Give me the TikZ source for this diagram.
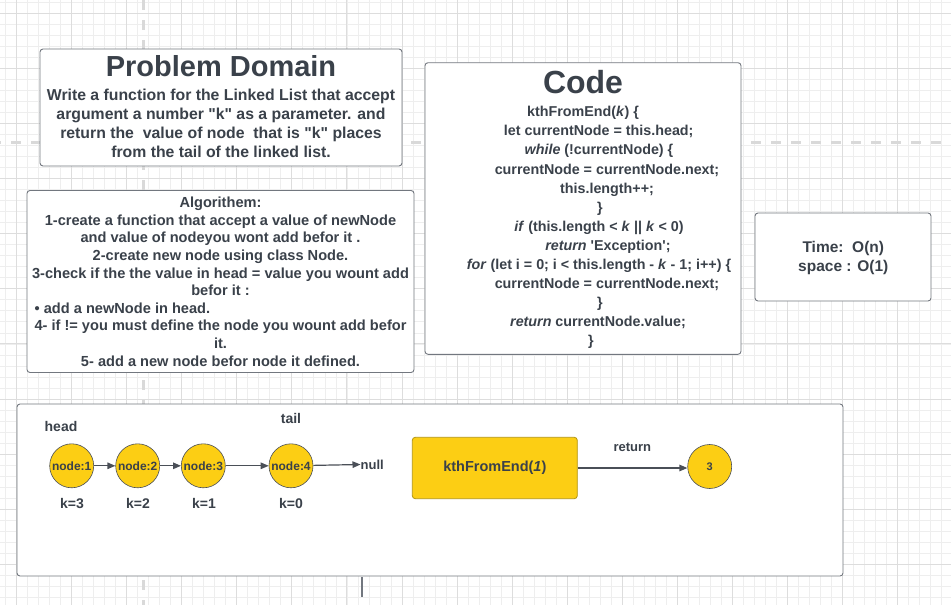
\documentclass[tikz,border=0pt]{standalone}
\usepackage{fontspec}
\setmainfont{Liberation Sans}[Ligatures=TeXOff]
\usetikzlibrary{arrows.meta}
\definecolor{txt}{HTML}{3A414A}
\definecolor{bord}{HTML}{72777F}
\definecolor{gmin}{HTML}{EEEEEE}
\definecolor{gmaj}{HTML}{DDDDDD}
\definecolor{guide}{HTML}{D9D9D9}
\definecolor{ylw}{HTML}{FCCE14}
\definecolor{ybord}{HTML}{B2950F}
\definecolor{cbord}{HTML}{4A4F57}
\tikzset{
  box/.style={draw=bord, fill=white, rounded corners=3pt, line width=0.9pt, inner sep=0pt},
  tx/.style={text=txt, inner sep=0pt, anchor=base},
  ptxt/.style={tx, font=\bfseries\fontsize{15.8}{19}\selectfont},
  atxt/.style={tx, font=\bfseries\fontsize{14.6}{17.6}\selectfont},
  ctxt/.style={tx, font=\bfseries\fontsize{14.3}{19}\selectfont},
  ltxt/.style={tx, font=\bfseries\fontsize{14}{16}\selectfont},
  lnode/.style={circle, minimum size=44pt, inner sep=0pt, fill=ylw, draw=cbord, line width=0.6pt, text=txt, font=\bfseries\fontsize{12}{12}\selectfont},
  arr/.style={draw=cbord, line width=1.2pt, -{Triangle[length=8pt,width=6.5pt]}},
  gridminor/.style={draw=gmin, line width=0.8pt},
  gridmajor/.style={draw=gmaj, line width=0.9pt},
  guideline/.style={draw=guide, line width=2.6pt, dash pattern=on 10pt off 10pt}
}
\begin{document}
\begin{tikzpicture}[x=1pt,y=-1pt]
\useasboundingbox (0,0) rectangle (951,605);
\fill[white] (0,0) rectangle (951,605);
% grid
\foreach \i in {0,...,86} {\draw[gridminor] ({5.5+11.014*\i},0) -- ({5.5+11.014*\i},605);}
\foreach \i in {0,...,55} {\draw[gridminor] (0,{2.3+11.02*\i}) -- (951,{2.3+11.02*\i});}
\foreach \i in {0,...,17} {\draw[gridmajor] ({16.5+55.07*\i},0) -- ({16.5+55.07*\i},605);}
\foreach \i in {0,...,10} {\draw[gridmajor] (0,{13.3+55.1*\i}) -- (951,{13.3+55.1*\i});}
% guides
\draw[guideline, dash phase=9pt] (0,142.3) -- (951,142.3);
\draw[guideline] (143.5,0) -- (143.5,605);
\draw[draw=bord, line width=2pt] (361.7,577) -- (361.7,597);

% Problem Domain
\node[box, minimum width=362pt, minimum height=117pt] (pd) at (221,107.5) {};
\node[tx, font=\bfseries\fontsize{29}{30}\selectfont] (pdt) at (221,76) {Problem Domain};
\node[ptxt] (pd1) at (221,100.7) {Write a function for the Linked List that accept};
\node[ptxt] (pd2) at (221,119.7) {argument a number "k" as a parameter. and};
\node[ptxt] (pd3) at (221,138.7) {return the \ value of node \ that is "k" places};
\node[ptxt] (pd4) at (221,157.7) {from the tail of the linked list.};

% Algorithm
\node[box, minimum width=387pt, minimum height=182pt] (al) at (220.5,281.5) {};
\node[atxt] (a0) at (220.5,207.7) {Algorithem:};
\node[atxt] (a1) at (220.5,225.3) {1-create a function that accept a value of newNode};
\node[atxt] (a2) at (220.5,242.9) {and value of nodeyou wont add befor it .};
\node[atxt] (a3) at (220.5,260.5) {2-create new node using class Node.};
\node[atxt] (a4) at (220.5,278.1) {3-check if the the value in head = value you wount add};
\node[atxt] (a5) at (220.5,295.7) {befor it :};
\node[atxt, anchor=base west] (a6) at (34.5,313.3) {• add a newNode in head.};
\node[atxt] (a7) at (220.5,330.9) {4- if != you must define the node you wount add befor};
\node[atxt] (a8) at (220.5,348.5) {it.};
\node[atxt] (a9) at (220.5,366.1) {5- add a new node befor node it defined.};

% Code
\node[box, minimum width=316pt, minimum height=291.6pt] (cd) at (583,208.5) {};
\node[tx, font=\bfseries\fontsize{32}{34}\selectfont] (cdt) at (583,93.3) {Code};
\node[ctxt] (c1) at (583,116.7) {kthFromEnd(\textit{k}) \{};
\node[ctxt] (c2) at (598.7,135.8) {let currentNode = this.head;};
\node[ctxt] (c3) at (599,154.9) {\textit{while} (!currentNode) \{};
\node[ctxt] (c4) at (607,174) {currentNode = currentNode.next;};
\node[ctxt] (c5) at (607,193.1) {this.length++;};
\node[ctxt] (c6) at (600,212.2) {\}};
\node[ctxt] (c7) at (599,231.3) {\textit{if} (this.length < \textit{k} || \textit{k} < 0)};
\node[ctxt] (c8) at (608,250.4) {\textit{return} 'Exception';};
\node[ctxt] (c9) at (599,269.5) {\textit{for} (let i = 0; i < this.length - \textit{k} - 1; i++) \{};
\node[ctxt] (c10) at (607,288.6) {currentNode = currentNode.next;};
\node[ctxt] (c11) at (600,307.7) {\}};
\node[ctxt] (c12) at (598,326.8) {\textit{return} currentNode.value;};
\node[ctxt] (c13) at (591,345.9) {\}};

% Complexity
\node[box, minimum width=176pt, minimum height=88pt] (cx) at (843,257) {};
\node[tx, font=\bfseries\fontsize{15.5}{20}\selectfont] (cx1) at (843.3,252.3) {Time:\ \ O(n)};
\node[tx, font=\bfseries\fontsize{15.5}{20}\selectfont] (cx2) at (843.3,271.7) {space : O(1)};

% Bottom frame
\node[box, minimum width=826pt, minimum height=172pt] (fr) at (430,490) {};
\node[ltxt] (head) at (61,431) {head};
\node[ltxt] (tail) at (291,423.3) {tail};
\node[lnode] (n1) at (71.7,465.8) {node:1};
\node[lnode] (n2) at (137.7,465.8) {node:2};
\node[lnode] (n3) at (203.3,465.8) {node:3};
\node[lnode] (n4) at (291,465.8) {node:4};
\node[tx, anchor=west, font=\bfseries\fontsize{13}{13}\selectfont] (null) at (360.5,464.5) {null};
\draw[arr] (n1) -- (n2);
\draw[arr] (n2) -- (n3);
\draw[arr] (n3) -- (n4);
\draw[arr] (n4) -- (null.west);
\node[ltxt] (k3) at (72,508.7) {k=3};
\node[ltxt] (k2) at (138,508.7) {k=2};
\node[ltxt] (k1) at (204,508.7) {k=1};
\node[ltxt] (k0) at (291,508.7) {k=0};

\node[draw=ybord, fill=ylw, rounded corners=3pt, line width=0.8pt, minimum width=165pt, minimum height=61.4pt, inner sep=0pt, text=txt, font=\bfseries\fontsize{14.5}{16}\selectfont] (kth) at (494.8,468) {kthFromEnd(\textit{1})};
\node[lnode, font=\bfseries\fontsize{11}{11}\selectfont] (res) at (709.7,466.5) {3};
\draw[arr] (kth.east) -- (kth.east -| res.west);
\node[tx, font=\bfseries\fontsize{13}{13}\selectfont] (ret) at (632.3,451.7) {return};
\end{tikzpicture}
\end{document}
